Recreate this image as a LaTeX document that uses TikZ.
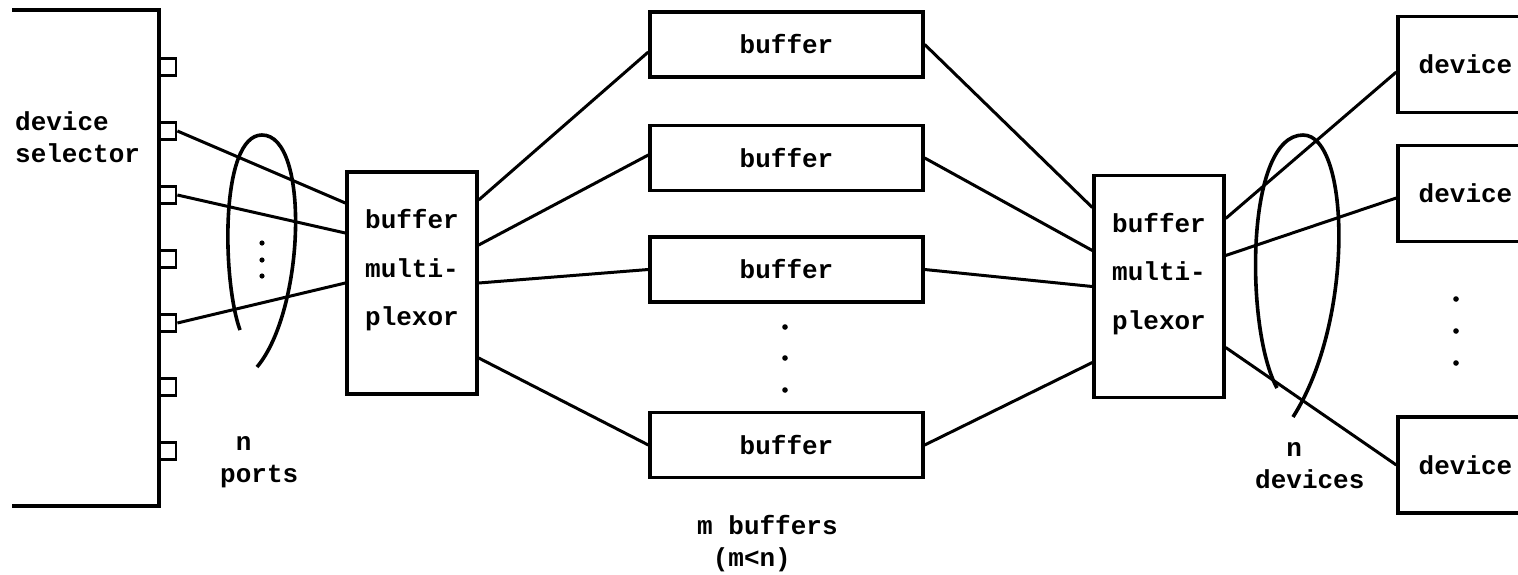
\documentclass[tikz,border=0pt]{standalone}
\usepackage{fontspec}
\newfontfamily\typefont{Liberation Mono}
\def\portsloop{(240,330) .. controls (222,280) and (220,135) .. (262,135) .. controls (310,135) and (305,310) .. (257,367)}
\def\devicesloop{(1277,388) .. controls (1245,330) and (1245,135) .. (1303,135) .. controls (1350,135) and (1355,320) .. (1293,417)}

\begin{document}
\begin{tikzpicture}[x=1pt, y=-1pt,
    every node/.style={inner sep=0pt, font=\fontsize{26}{32}\selectfont\typefont\bfseries},
    thickbox/.style={draw, line width=3.4pt},
    bufferbox/.style={thickbox, minimum width=273pt, minimum height=65pt},
    muxbox/.style={thickbox, minimum width=130pt, minimum height=222pt},
    devicebox/.style={thickbox, minimum width=135pt, minimum height=96pt},
    portbox/.style={draw, line width=2.8pt, minimum size=17pt},
    muxlabel/.style={align=left, font=\fontsize{26}{48.5}\selectfont\typefont\bfseries},
    note/.style={anchor=west, align=left},
    wire/.style={line width=3pt}]
  \useasboundingbox (0,0) rectangle (1518,574);
  \clip (0,0) rectangle (1518,574);

  % device selector and its ports
  \draw[line width=3.4pt] (12,10) -- (159,10) -- (159,506) -- (12,506);
  \node[note] (selector) at (15,137.5) {device\\selector};
  \foreach \i in {1,...,7}
    \node[portbox] (p\i) at (167.5,{67+64*(\i-1)}) {};

  % the two multiplexors
  \node[muxbox] (mux1) at (412,283) {};
  \node[muxlabel] (mux1 text) at ([yshift=12.5pt]mux1.center) {buffer\\multi-\\plexor};
  \node[muxbox] (mux2) at (1159,286.5) {};
  \node[muxlabel] (mux2 text) at ([yshift=12.5pt]mux2.center) {buffer\\multi-\\plexor};

  % buffers
  \node[bufferbox] (b1) at (786.5,44.5) {buffer};
  \node[bufferbox] (b2) at (786.5,158) {buffer};
  \node[bufferbox] (b3) at (786.5,269.5) {buffer};
  \node[bufferbox] (b4) at (786.5,445) {buffer};

  % devices
  \node[devicebox] (d1) at (1465.5,64.5) {device};
  \node[devicebox] (d2) at (1465.5,193.5) {device};
  \node[devicebox] (d3) at (1465.5,465) {device};

  % wires
  \draw[wire] (p2.east) -- ([yshift=80pt]mux1.west);
  \draw[wire] (p3.east) -- ([yshift=50pt]mux1.west);
  \draw[wire] (p5.east) -- (mux1.west);
  \draw[wire] ([yshift=83pt]mux1.east) -- ([yshift=-7.5pt]b1.west);
  \draw[wire] ([yshift=38pt]mux1.east) -- ([yshift=3pt]b2.west);
  \draw[wire] (mux1.east) -- (b3.west);
  \draw[wire] ([yshift=-75pt]mux1.east) -- (b4.west);
  \draw[wire] (b1.east) -- ([yshift=79pt]mux2.west);
  \draw[wire] (b2.east) -- ([yshift=36pt]mux2.west);
  \draw[wire] (b3.east) -- (mux2.west);
  \draw[wire] (b4.east) -- ([yshift=-76pt]mux2.west);
  \draw[wire] ([yshift=68pt]mux2.east) -- ([yshift=-7.5pt]d1.west);
  \draw[wire] ([yshift=31pt]mux2.east) -- ([yshift=-4.5pt]d2.west);
  \draw[wire] ([yshift=-61pt]mux2.east) -- (d3.west);

  % dots and loops
  \foreach \y in {243,260,276} \fill (262,\y) circle (2.6);
  \foreach \y in {327,358,390} \fill (785,\y) circle (2.8);
  \foreach \y in {299,331,363} \fill (1456,\y) circle (2.8);
  \draw[line width=3.6pt] \portsloop;
  \draw[line width=3.6pt] \devicesloop;

  % labels
  \node[note] (ports) at (220,462) {~n\\ports};
  \node[note] (devices) at (1255,465.5) {~~n\\devices};
  \node[note] (buffers) at (697,543.5) {m buffers\\~(m<n)};
\end{tikzpicture}
\end{document}
